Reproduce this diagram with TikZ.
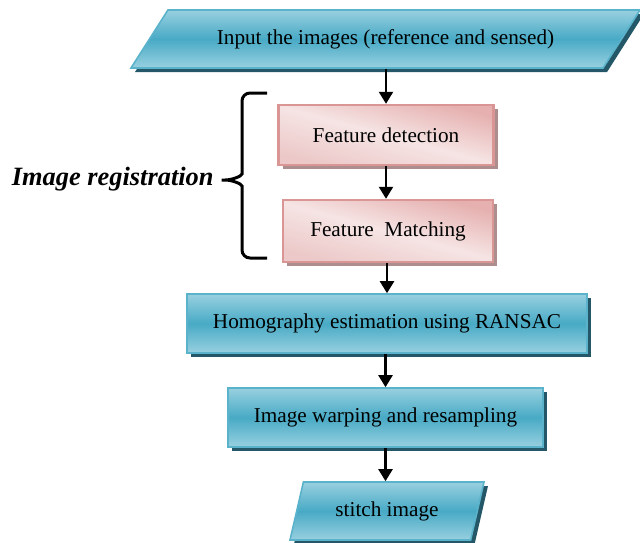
\documentclass[tikz,border=0pt]{standalone}
\usepackage{fontspec}
\setmainfont{Liberation Serif}
\usetikzlibrary{shapes.geometric,shadows,arrows.meta}

\definecolor{tealtop}{RGB}{152,208,224}
\definecolor{tealmid}{RGB}{72,170,197}
\definecolor{tealline}{RGB}{90,178,203}
\definecolor{tealshadow}{RGB}{36,88,104}
\definecolor{pinkdark}{RGB}{218,150,148}
\definecolor{pinktop}{RGB}{229,176,175}
\definecolor{pinklight}{RGB}{246,228,228}
\definecolor{pinkbottom}{RGB}{236,200,200}
\definecolor{pinkshadow}{RGB}{172,142,142}

\tikzset{
  stepbox/.style={rectangle, draw=tealline, line width=0.8pt, inner sep=0pt,
    top color=tealtop, bottom color=tealtop, middle color=tealmid,
    minimum height=29.5pt, font=\fontsize{10.6}{13}\selectfont,
    drop shadow={shadow xshift=2pt, shadow yshift=-2pt, fill=tealshadow, opacity=1}},
  % parallelograms: height from the text box, width stretched in the body only
  iobox/.style={stepbox, trapezium, trapezium stretches body=true,
    minimum height=0pt, text height=7.4pt, text depth=2.3pt, inner ysep=9.65pt},
  regbox/.style={rectangle, draw=pinkdark, line width=1.2pt, inner sep=0pt,
    top color=pinktop, bottom color=pinkbottom, middle color=pinklight, shading angle=-15,
    font=\fontsize{10.6}{13}\selectfont,
    drop shadow={shadow xshift=2pt, shadow yshift=-2pt, fill=pinkshadow, opacity=1}},
  flow/.style={-{Triangle[width=7pt,length=6pt]}, line width=1.1pt},
  bracket/.style={line width=1.5pt, rounded corners=4pt},
}

\begin{document}
\begin{tikzpicture}[x=0.5pt, y=-0.5pt]
    \useasboundingbox (0,0) rectangle (640,542);
    % main chain
    \node[iobox, trapezium left angle=57.5, trapezium right angle=122.5,
          minimum width=254.5pt] (input) at (385.5,39)
          {Input the images (reference and sensed)};
    \node[regbox, minimum width=107.5pt, minimum height=30pt] (detect) at (386,135) {Feature detection};
    \node[regbox, minimum width=105pt, minimum height=31pt] (match) at (388,231) {Feature\ \ Matching};
    \node[stepbox, minimum width=200pt] (homog) at (387,323.5) {Homography estimation using RANSAC};
    \node[stepbox, minimum width=157.5pt] (warp) at (385.5,417.5) {Image warping and resampling};
    \node[iobox, trapezium left angle=77, trapezium right angle=103,
          minimum width=97pt] (stitch) at (387,511) {stitch image};

    \draw[flow] (input.south -| detect) -- (detect.north);
    \draw[flow] (detect.south) -- (detect.south |- match.north);
    \draw[flow] (match.south -| homog) -- (homog.north);
    \draw[flow] (homog.south -| warp) -- (warp.north);
    \draw[flow] (warp.south) -- (warp.south |- stitch.north);

    % bracket round the registration steps
    \coordinate (tip) at (217,180);
    \draw[bracket] (267,93) -- (242,93) -- (242,166)
        .. controls (242,176) and (232,180) .. (tip)
        .. controls (232,180) and (242,184) .. (242,194)
        -- (242,258) -- (267,258);
    \node[anchor=base east, font=\fontsize{13.2}{16}\selectfont\bfseries\itshape, inner sep=0pt]
        (reg) at (214,185) {Image registration};
\end{tikzpicture}
\end{document}
